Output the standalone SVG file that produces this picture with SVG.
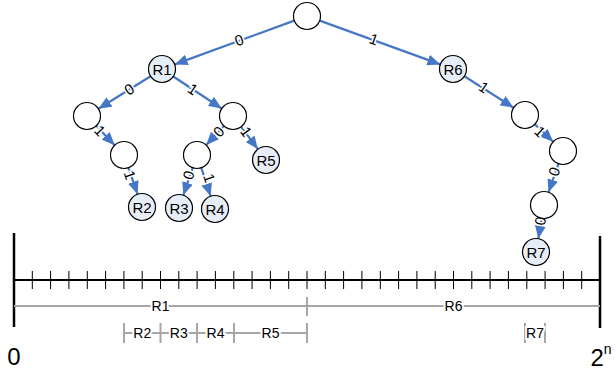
<svg xmlns="http://www.w3.org/2000/svg" width="616" height="377" viewBox="0 0 616 377">
<style>
.n{fill:#fff;stroke:#000;stroke-width:1.2}
.r{fill:#E6EDF7;stroke:#000;stroke-width:1.2}
.nt{font-family:"Liberation Sans",Arial,sans-serif;font-size:15px;fill:#000;text-anchor:middle;dominant-baseline:central}
.e{stroke:#4677C6;stroke-width:2.2;fill:none;marker-end:url(#ah)}
.el{font-family:"Liberation Sans",Arial,sans-serif;font-size:15px;fill:#000;text-anchor:middle;dominant-baseline:central;stroke:#fff;stroke-width:3;paint-order:stroke}
.ax{stroke:#000;fill:none}
.g{stroke:#A6A6A6;stroke-width:2;fill:none}
.gl{font-family:"Liberation Sans",Arial,sans-serif;font-size:14px;fill:#000;text-anchor:middle;dominant-baseline:central;stroke:#fff;stroke-width:4;paint-order:stroke}
.big{font-family:"Liberation Sans",Arial,sans-serif;font-size:24px;fill:#000;text-anchor:middle}
</style>
<defs>
<marker id="ah" markerUnits="userSpaceOnUse" markerWidth="13" markerHeight="11" refX="13" refY="5.5" orient="auto">
<path d="M0,0 L13,5.5 L0,11 z" fill="#4677C6"/>
</marker>
</defs>
<g id="connectors">
<line class="e" x1="294.3" y1="20.6" x2="174.7" y2="64.4"/>
<line class="e" x1="319.7" y1="20.6" x2="440.3" y2="64.4"/>
<line class="e" x1="150.6" y1="76.2" x2="98.4" y2="108.8"/>
<line class="e" x1="173.3" y1="76.5" x2="221.7" y2="108.5"/>
<line class="e" x1="464.4" y1="76.3" x2="513.6" y2="107.7"/>
<line class="e" x1="96.3" y1="125.8" x2="114.7" y2="145.2"/>
<line class="e" x1="128.4" y1="167.8" x2="137.6" y2="194.2"/>
<line class="e" x1="223.8" y1="125.9" x2="206.2" y2="145.1"/>
<line class="e" x1="241.1" y1="126.8" x2="257.9" y2="149.2"/>
<line class="e" x1="192.7" y1="167.8" x2="183.3" y2="195.2"/>
<line class="e" x1="201.3" y1="167.8" x2="210.7" y2="196.2"/>
<line class="e" x1="534.8" y1="124.3" x2="553.2" y2="141.7"/>
<line class="e" x1="558.5" y1="163.7" x2="548.5" y2="192.3"/>
<line class="e" x1="541.7" y1="218.3" x2="538.3" y2="238.7"/>
<text class="el" x="239" y="40" transform="rotate(-20.1 239 40)">0</text>
<text class="el" x="374" y="39" transform="rotate(20 374 39)">1</text>
<text class="el" x="129" y="89" transform="rotate(-32.1 129 89)">0</text>
<text class="el" x="193" y="89" transform="rotate(33.5 193 89)">1</text>
<text class="el" x="484" y="87" transform="rotate(32.6 484 87)">1</text>
<text class="el" x="100" y="130.5" transform="rotate(46.5 100 130.5)">1</text>
<text class="el" x="130" y="175" transform="rotate(70.9 130 175)">1</text>
<text class="el" x="218.5" y="131.5" transform="rotate(-47.3 218.5 131.5)">0</text>
<text class="el" x="246.5" y="131.5" transform="rotate(53.1 246.5 131.5)">1</text>
<text class="el" x="188.5" y="175" transform="rotate(-71.2 188.5 175)">0</text>
<text class="el" x="209.5" y="178" transform="rotate(71.6 209.5 178)">1</text>
<text class="el" x="540" y="131.5" transform="rotate(43.5 540 131.5)">1</text>
<text class="el" x="554" y="171.5" transform="rotate(-70.6 554 171.5)">0</text>
<text class="el" x="540" y="221" transform="rotate(-80.3 540 221)">0</text>
</g>
<g id="root"><circle class="n" cx="307" cy="16" r="13.5"/></g>
<g id="R1"><circle class="r" cx="162" cy="69" r="13.5"/><text class="nt" x="162" y="69">R1</text></g>
<g id="R6"><circle class="r" cx="453" cy="69" r="13.5"/><text class="nt" x="453" y="69">R6</text></g>
<g id="nA"><circle class="n" cx="87" cy="116" r="13.5"/></g>
<g id="nB"><circle class="n" cx="233" cy="116" r="13.5"/></g>
<g id="nC"><circle class="n" cx="124" cy="155" r="13.5"/></g>
<g id="nD"><circle class="n" cx="197" cy="155" r="13.5"/></g>
<g id="R2"><circle class="r" cx="142" cy="207" r="13.5"/><text class="nt" x="142" y="207">R2</text></g>
<g id="R3"><circle class="r" cx="179" cy="208" r="13.5"/><text class="nt" x="179" y="208">R3</text></g>
<g id="R4"><circle class="r" cx="215" cy="209" r="13.5"/><text class="nt" x="215" y="209">R4</text></g>
<g id="R5"><circle class="r" cx="266" cy="160" r="13.5"/><text class="nt" x="266" y="160">R5</text></g>
<g id="nE"><circle class="n" cx="525" cy="115" r="13.5"/></g>
<g id="nF"><circle class="n" cx="563" cy="151" r="13.5"/></g>
<g id="nG"><circle class="n" cx="544" cy="205" r="13.5"/></g>
<g id="R7"><circle class="r" cx="536" cy="252" r="13.5"/><text class="nt" x="536" y="252">R7</text></g>
<g id="axis">
<line class="ax" x1="14" y1="280" x2="600" y2="280" stroke-width="2.2"/>
<path class="ax" stroke-width="1" d="M32.3,271V289M50.6,271V289M68.9,271V289M87.3,271V289M105.6,271V289M123.9,271V289M142.2,271V289M160.5,271V289M178.8,271V289M197.1,271V289M215.4,271V289M233.8,271V289M252.1,271V289M270.4,271V289M288.7,271V289M307,271V289M325.3,271V289M343.6,271V289M361.9,271V289M380.3,271V289M398.6,271V289M416.9,271V289M435.2,271V289M453.5,271V289M471.8,271V289M490.1,271V289M508.4,271V289M526.8,271V289M545.1,271V289M563.4,271V289M581.7,271V289"/>
<line class="ax" x1="14" y1="233" x2="14" y2="327" stroke-width="2.5"/>
<line class="ax" x1="600" y1="236" x2="600" y2="328" stroke-width="2.5"/>
<text class="big" x="14" y="364.5">0</text>
<text class="big" x="601" y="366">2<tspan font-size="14px" dy="-12">n</tspan></text>
</g>
<g id="ranges">
<line class="g" x1="14" y1="306" x2="600" y2="306"/>
<line class="g" x1="307" y1="297" x2="307" y2="316"/>
<text class="gl" x="160.5" y="306">R1</text>
<text class="gl" x="453.5" y="306">R6</text>
<line class="g" x1="124" y1="333" x2="307" y2="333"/>
<path class="g" d="M124,323V343M160.5,323V343M197,323V343M234,323V343M307,323V343M525,323V343M545,323V343"/>
<text class="gl" x="142.3" y="333">R2</text>
<text class="gl" x="178.8" y="333">R3</text>
<text class="gl" x="215.5" y="333">R4</text>
<text class="gl" x="270.5" y="333">R5</text>
<text class="gl" x="535" y="333">R7</text>
</g>
</svg>
